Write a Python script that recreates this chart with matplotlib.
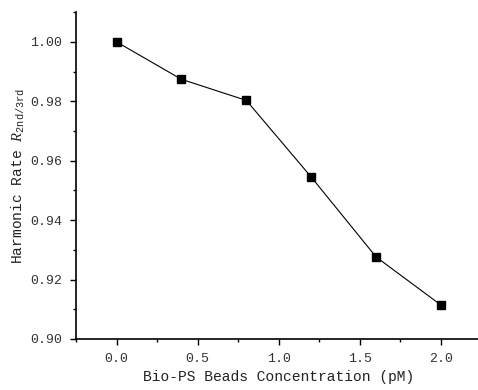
import matplotlib
matplotlib.use('Agg')
import matplotlib.pyplot as plt
from matplotlib.ticker import MultipleLocator

plt.rcParams['font.family'] = ['Liberation Mono', 'DejaVu Sans']
plt.rcParams['mathtext.fontset'] = 'custom'
plt.rcParams['mathtext.it'] = 'Liberation Serif:italic'
plt.rcParams['mathtext.rm'] = 'Liberation Mono'

# concentration (pM) and harmonic rate
conc = [0.0, 0.4, 0.8, 1.2, 1.6, 2.0]
rate = [1.000, 0.9874, 0.9803, 0.9545, 0.9276, 0.9114]

fig = plt.figure(figsize=(4.78, 3.90), dpi=100)
ax = fig.add_axes([0.159, 0.1308, 0.8485, 0.838])

ax.plot(conc, rate, color='black', lw=0.8, marker='s', ms=5.5, mfc='black', mec='black')

ax.set_xlim(-0.25, 2.25)
ax.set_ylim(0.90, 1.01)
ax.xaxis.set_major_locator(MultipleLocator(0.5))
ax.xaxis.set_minor_locator(MultipleLocator(0.25))
ax.yaxis.set_major_locator(MultipleLocator(0.02))
ax.yaxis.set_minor_locator(MultipleLocator(0.01))
ax.xaxis.set_major_formatter(plt.FuncFormatter(lambda v, p: '%.1f' % v))
ax.yaxis.set_major_formatter(plt.FuncFormatter(lambda v, p: '%.2f' % v))

for s in ['top', 'right']:
    ax.spines[s].set_visible(False)
for s in ['left', 'bottom']:
    ax.spines[s].set_linewidth(1.2)

ax.tick_params(which='major', direction='out', length=4, width=1, labelsize=9.5, pad=6)
ax.tick_params(which='minor', direction='out', length=2.5, width=1)
ax.tick_params(axis='both', labelcolor='#333333')

ax.set_xlabel('Bio-PS Beads Concentration (pM)', fontsize=10.5, labelpad=4, color='#222222')
ax.set_ylabel(r'Harmonic Rate $\mathit{R}_{\mathrm{2nd/3rd}}$', fontsize=10.5, labelpad=2, color='#222222')

fig.savefig('out.png', dpi=100)
